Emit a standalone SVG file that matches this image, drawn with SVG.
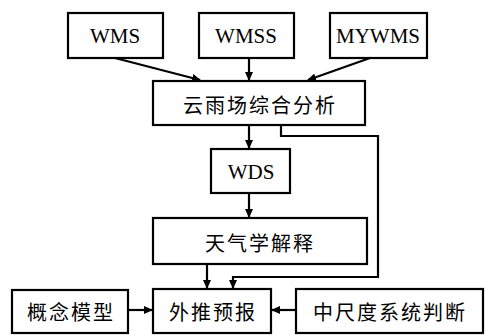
<svg xmlns="http://www.w3.org/2000/svg" width="485" height="335" viewBox="0 0 485 335">
<style>
.box{fill:#fff;stroke:#000;stroke-width:2.2}
.lat{font-family:"Liberation Serif","DejaVu Serif",serif;font-size:21px;fill:#000;text-anchor:middle;dominant-baseline:central}
.cjk{font-family:"Noto Sans CJK SC","Liberation Serif",serif;font-size:20px;letter-spacing:2px;fill:#000;text-anchor:middle;dominant-baseline:central}
.ln{fill:none;stroke:#000;stroke-width:2.2}
</style>
<defs>
<marker id="ah" markerWidth="9" markerHeight="8" refX="8" refY="4" orient="auto" markerUnits="userSpaceOnUse">
<path d="M0,0 L9,4 L0,8 Z" fill="#000"/>
</marker>
</defs>
<rect width="485" height="335" fill="#fff"/>
<g id="connectors">
<line class="ln" x1="115" y1="58" x2="200" y2="80" marker-end="url(#ah)"/>
<line class="ln" x1="249" y1="58" x2="249" y2="80" marker-end="url(#ah)"/>
<line class="ln" x1="370" y1="58" x2="308" y2="80" marker-end="url(#ah)"/>
<line class="ln" x1="249" y1="125" x2="249" y2="148" marker-end="url(#ah)"/>
<line class="ln" x1="249" y1="193" x2="249" y2="217" marker-end="url(#ah)"/>
<polyline class="ln" points="281,125 281,136 378,136 378,277 233,277 233,288" marker-end="url(#ah)"/>
<line class="ln" x1="207" y1="264" x2="207" y2="288" marker-end="url(#ah)"/>
<line class="ln" x1="128" y1="310" x2="152" y2="310" marker-end="url(#ah)"/>
<line class="ln" x1="296" y1="310" x2="272" y2="310" marker-end="url(#ah)"/>
</g>
<g id="n-wms"><rect class="box" x="68" y="13" width="95" height="45"/><text class="lat" x="115" y="36">WMS</text></g>
<g id="n-wmss"><rect class="box" x="199" y="13" width="95" height="45"/><text class="lat" x="246" y="36">WMSS</text></g>
<g id="n-mywms"><rect class="box" x="330" y="13" width="97" height="45"/><text class="lat" x="378" y="36">MYWMS</text></g>
<g id="n-cloud"><rect class="box" x="153" y="81" width="212" height="44"/><text class="cjk" x="260" y="104">云雨场综合分析</text></g>
<g id="n-wds"><rect class="box" x="211" y="149" width="79" height="44"/><text class="lat" x="251" y="172">WDS</text></g>
<g id="n-synop"><rect class="box" x="153" y="218" width="214" height="46"/><text class="cjk" x="260" y="242">天气学解释</text></g>
<g id="n-concept"><rect class="box" x="12" y="290" width="116" height="43"/><text class="cjk" x="71" y="311">概念模型</text></g>
<g id="n-extrap"><rect class="box" x="153" y="289" width="118" height="44"/><text class="cjk" x="213" y="311">外推预报</text></g>
<g id="n-meso"><rect class="box" x="296" y="289" width="187" height="44"/><text class="cjk" x="390" y="311">中尺度系统判断</text></g>
</svg>
